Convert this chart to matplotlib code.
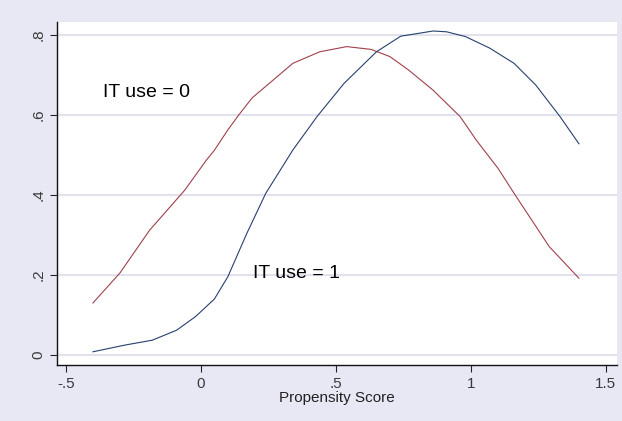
import matplotlib
matplotlib.use("Agg")
import matplotlib.pyplot as plt
import numpy as np

# density of propensity score, IT use = 0 (red)
x_it0 = [-0.40, -0.30, -0.19, -0.06, 0.02, 0.05, 0.10, 0.14, 0.19, 0.26, 0.34, 0.44, 0.54,
         0.63, 0.70, 0.77, 0.86, 0.96, 1.02, 1.10, 1.16, 1.29, 1.40]
y_it0 = [0.130, 0.205, 0.312, 0.412, 0.487, 0.512, 0.563, 0.600, 0.643, 0.683, 0.729, 0.758, 0.771,
         0.764, 0.746, 0.712, 0.662, 0.596, 0.537, 0.467, 0.404, 0.271, 0.192]

# density of propensity score, IT use = 1 (blue)
x_it1 = [-0.40, -0.28, -0.18, -0.09, -0.02, 0.05, 0.10, 0.17, 0.24, 0.34, 0.43,
         0.53, 0.65, 0.74, 0.86, 0.91, 0.98, 1.07, 1.16, 1.24, 1.33, 1.40]
y_it1 = [0.008, 0.025, 0.037, 0.062, 0.096, 0.140, 0.196, 0.304, 0.404, 0.512, 0.596,
         0.679, 0.758, 0.797, 0.810, 0.808, 0.796, 0.767, 0.729, 0.675, 0.596, 0.528]

xticks = [-0.5, 0, 0.5, 1, 1.5]
xtick_labels = ["-.5", "0", ".5", "1", "1.5"]
yticks = [0, 0.2, 0.4, 0.6, 0.8]
ytick_labels = ["0", ".2", ".4", ".6", ".8"]

plt.rcParams['font.family'] = ['Liberation Sans', 'DejaVu Sans']

bg = '#e8e8f4'
fig = plt.figure(figsize=(6.22, 4.21), dpi=100, facecolor=bg)
ax = fig.add_axes([57 / 622, 1 - 365 / 421, 560 / 622, 343 / 421])
ax.set_facecolor('white')

ax.plot(x_it0, y_it0, color='#a0404c', linewidth=0.8)
ax.plot(x_it1, y_it1, color='#27406e', linewidth=0.8)

ax.set_xlim(-0.533, 1.541)
ax.set_ylim(-0.025, 0.8325)

ax.set_xticks(xticks)
ax.set_xticklabels(xtick_labels)
ax.set_yticks(yticks)
ax.set_yticklabels(ytick_labels, rotation=90, va='center')
ax.tick_params(axis='both', direction='out', length=5, width=0.8,
               labelsize=11, labelcolor='#3a3a3a', color='#222222')

ax.yaxis.grid(True, color='#e2e2ef', linewidth=1.5)
ax.set_axisbelow(True)

for side in ['top', 'right']:
    ax.spines[side].set_visible(False)
for side in ['left', 'bottom']:
    ax.spines[side].set_linewidth(1.0)
    ax.spines[side].set_color('#111111')

ax.set_xlabel('Propensity Score', fontsize=11, color='#222222', labelpad=0)

ax.text(-0.363, 0.6575, 'IT use = 0', fontsize=14, va='center', ha='left')
ax.text(0.193, 0.205, 'IT use = 1', fontsize=14, va='center', ha='left')

fig.savefig('out.png', dpi=100, facecolor=bg)
